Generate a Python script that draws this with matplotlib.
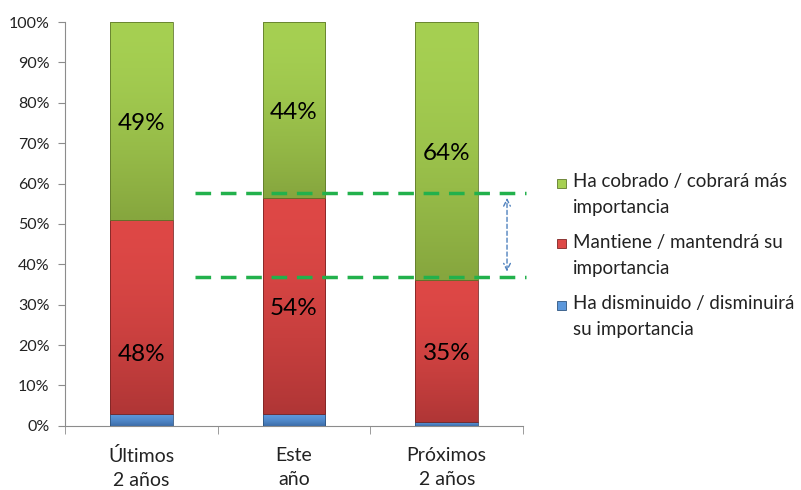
import numpy as np
import matplotlib.pyplot as plt
from matplotlib.patches import Rectangle
from matplotlib.colors import to_rgb

plt.rcParams['font.family'] = ['Lato', 'DejaVu Sans']

# Survey shares per period (percent)
categories = ["Últimos\n2 años", "Este\naño", "Próximos\n2 años"]
disminuye = np.array([3, 3, 1])
mantiene = np.array([48, 54, 35])
cobra = np.array([49, 44, 64])
legend_labels = ["Ha cobrado / cobrará más\nimportancia",
                 "Mantiene / mantendrá su\nimportancia",
                 "Ha disminuido / disminuirá\nsu importancia"]

# 100% stacked: normalise each column
total = disminuye + mantiene + cobra
blue_h = disminuye / total * 100
red_h = mantiene / total * 100
green_h = cobra / total * 100

# (top colour, bottom colour, edge colour)
blue_style = ("#5c98dc", "#3c6ca8", "#2f5580")
red_style = ("#de4846", "#b03636", "#7d2524")
green_style = ("#a6d052", "#86a63e", "#607a2b")

fig = plt.figure(figsize=(8.01, 4.90), dpi=100)
ax = fig.add_axes([0.081, 0.131, 0.572, 0.824])

x = np.arange(len(categories))
w = 0.41


def seg(bottom, height, style):
    top_c, bot_c, ec = style
    bars = ax.bar(x, height, w, bottom=bottom, color="none", edgecolor=ec,
                  linewidth=0.6, zorder=3)
    t = np.linspace(0, 1, 64)[:, None] ** 1.6
    grad = (1 - t) * np.array(to_rgb(top_c)) + t * np.array(to_rgb(bot_c))
    grad = grad[:, None, :]
    for r in bars:
        x0, y0 = r.get_x(), r.get_y()
        im = ax.imshow(grad, extent=(x0, x0 + r.get_width(), y0, y0 + r.get_height()),
                       aspect="auto", origin="upper", zorder=2, interpolation="bilinear")
        im.set_clip_path(r)


seg(0, blue_h, blue_style)
seg(blue_h, red_h, red_style)
seg(blue_h + red_h, green_h, green_style)

# value labels
red_label_y = [17.6, blue_h[1] + red_h[1] / 2 - 0.6, blue_h[2] + red_h[2] / 2 - 0.6]
for i in range(len(x)):
    ax.text(x[i], red_label_y[i], f"{mantiene[i]}%", ha="center", va="center",
            fontsize=17.5, color="black", zorder=4)
    ax.text(x[i], blue_h[i] + red_h[i] + green_h[i] / 2 - 0.6,
            f"{cobra[i]}%", ha="center", va="center", fontsize=17.5, color="black", zorder=4)

ax.set_xlim(-0.5, 2.5)
ax.set_ylim(0, 100)
ax.set_yticks(np.arange(0, 101, 10))
ax.set_yticklabels([f"{v}%" for v in range(0, 101, 10)], fontsize=11.5, color="#222222")
ax.set_xticks(x)
ax.set_xticklabels(categories, fontsize=14, color="#222222", linespacing=1.5)
ax.tick_params(axis="x", length=0, pad=15)
ax.set_xticks([-0.5, 0.5, 1.5, 2.5], minor=True)
ax.tick_params(axis="x", which="minor", length=6, color="#8c8c8c", direction="out")
ax.tick_params(axis="y", length=5, color="#8c8c8c", direction="out", pad=6)
for s in ["top", "right"]:
    ax.spines[s].set_visible(False)
for s in ["left", "bottom"]:
    ax.spines[s].set_color("#8c8c8c")

# comparison guides between this year and next two years
y_hi = blue_h[1] + red_h[1] + 1.3
y_lo = blue_h[2] + red_h[2] + 0.9
for yy in (y_hi, y_lo):
    ax.plot([0.35, 2.52], [yy, yy], color="#22b14c", lw=2.5, dashes=(4.5, 2.8),
            clip_on=False, zorder=5)
ax.annotate("", xy=(2.395, y_hi - 0.6), xytext=(2.395, y_lo + 0.6),
            arrowprops=dict(arrowstyle="<->", color="#4f81bd", lw=1, linestyle=(0, (3, 2)),
                            mutation_scale=12), annotation_clip=False)

# legend drawn by hand so each marker sits on the first text line
W, H = 801, 490
styles = [green_style, red_style, blue_style]
first_line_px = [183, 244, 305]
for lab, st, ypx in zip(legend_labels, styles, first_line_px):
    fig.patches.append(Rectangle((557 / W, 1 - (ypx + 4.5) / H), 9 / W, 9 / H,
                                 transform=fig.transFigure, facecolor=st[0],
                                 edgecolor=st[2], linewidth=0.6))
    fig.text(573 / W, 1 - (ypx - 10) / H, lab, ha="left", va="top", fontsize=13.5,
             color="#222222", linespacing=1.62)

fig.savefig("out.png", dpi=100)
